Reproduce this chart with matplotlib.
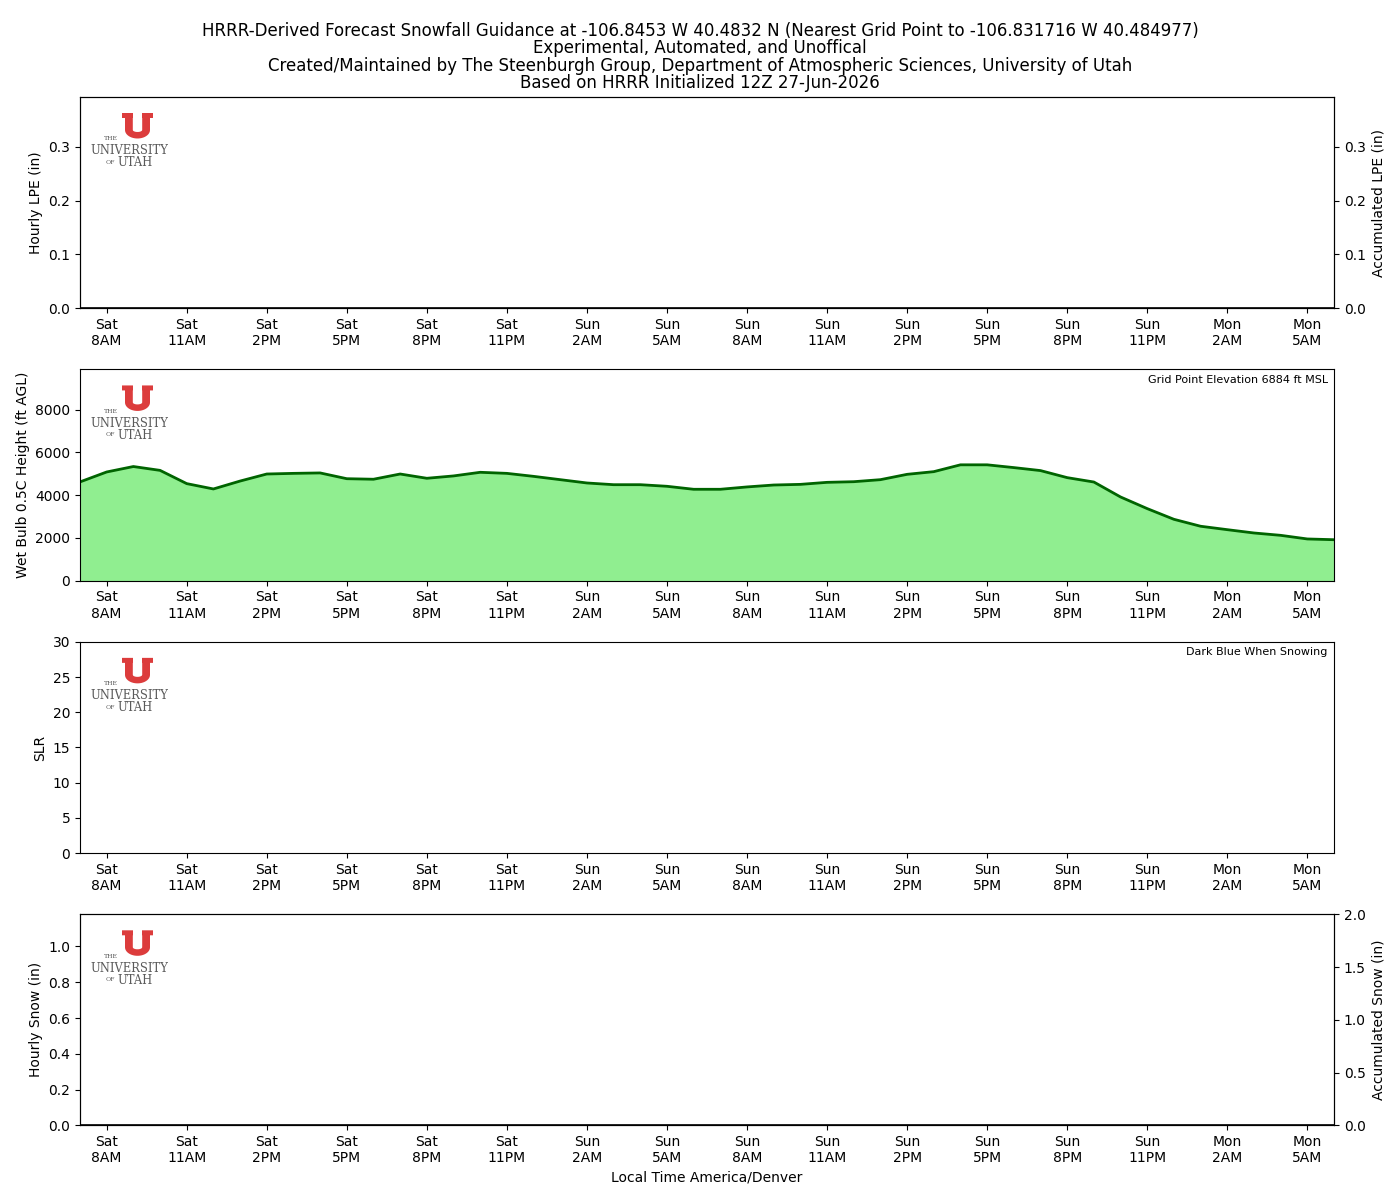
import matplotlib
matplotlib.use("Agg")
import matplotlib.pyplot as plt
import matplotlib.transforms as mtransforms
from matplotlib.patches import Polygon
import numpy as np

# ---- data ----
hours = list(range(48))  # hourly from Sat 7AM to Mon 6AM local
tick_hours = list(range(1, 48, 3))
tick_labels = ["Sat\n8AM", "Sat\n11AM", "Sat\n2PM", "Sat\n5PM", "Sat\n8PM", "Sat\n11PM",
               "Sun\n2AM", "Sun\n5AM", "Sun\n8AM", "Sun\n11AM", "Sun\n2PM", "Sun\n5PM",
               "Sun\n8PM", "Sun\n11PM", "Mon\n2AM", "Mon\n5AM"]
wetbulb_height = [4620, 5085, 5340, 5160, 4540, 4290, 4660, 4990, 5020, 5040,
                  4770, 4745, 4990, 4790, 4900, 5070, 5020, 4880, 4725, 4570,
                  4490, 4490, 4415, 4275, 4275, 4385, 4475, 4505, 4600, 4630,
                  4725, 4975, 5100, 5420, 5420, 5290, 5150, 4820, 4615, 3915,
                  3370, 2870, 2545, 2385, 2230, 2120, 1950, 1915]
hourly_lpe = [0.0] * 48
accum_lpe = [0.0] * 48
hourly_snow = [0.0] * 48
accum_snow = [0.0] * 48
elevation_ft = 6884

title = ("HRRR-Derived Forecast Snowfall Guidance at -106.8453 W 40.4832 N (Nearest Grid Point to -106.831716 W 40.484977)\n"
         "Experimental, Automated, and Unoffical\n"
         "Created/Maintained by The Steenburgh Group, Department of Atmospheric Sciences, University of Utah\n"
         "Based on HRRR Initialized 12Z 27-Jun-2026")

fig, axes = plt.subplots(4, 1, figsize=(14, 12), dpi=100)
fig.subplots_adjust(left=80/1400, right=1334/1400, bottom=1-1125.5/1200, top=1-97/1200, hspace=0.29)
fig.suptitle(title, fontsize=12, y=1-22/1200, va="top", linespacing=0.96)

pix = mtransforms.Affine2D().scale(1, -1).translate(0, 1200).scale(1/1400, 1/1200) + fig.transFigure


def draw_logo(ax):
    x0 = 80
    y0 = 1200 - fig.transFigure.transform((0, ax.get_position().y1))[1]

    def P(pts):
        return [(x0 + x, y0 + y) for x, y in pts]
    red = "#dc3c3c"
    shape = ([(42, 16), (53, 16), (53, 21), (52.8, 21), (52.8, 33)]
             + [(57.5 + 4.7*np.cos(a), 33 + 2*np.sin(a)) for a in np.linspace(np.pi, 0, 10)]
             + [(62.2, 21), (62, 21), (62, 16), (73, 16), (73, 21), (70, 21), (70, 33)]
             + [(57.5 + 12.5*np.cos(a), 33 + 8.5*np.sin(a)) for a in np.linspace(0, np.pi, 24)]
             + [(45, 21), (42, 21)])
    fig.add_artist(Polygon(P(shape), closed=True, facecolor=red, edgecolor="none", transform=pix))
    gray = "#5a5a5a"
    fig.text(*P([(31, 42)])[0], "THE", transform=pix, fontsize=4.5, family="DejaVu Serif",
             color=gray, ha="center", va="center")
    fig.text(*P([(49.5, 54)])[0], "UNIVERSITY", transform=pix, fontsize=8.3, family="DejaVu Serif",
             color=gray, ha="center", va="center")
    fig.text(*P([(30, 65.5)])[0], "OF", transform=pix, fontsize=4.5, family="DejaVu Serif",
             color=gray, ha="center", va="center")
    fig.text(*P([(55, 66)])[0], "UTAH", transform=pix, fontsize=8.3, family="DejaVu Serif",
             color=gray, ha="center", va="center")


for ax in axes:
    ax.set_xlim(0, 47)
    ax.set_xticks(tick_hours)
    ax.set_xticklabels(tick_labels)

# Panel 1: LPE
ax1 = axes[0]
ax1.bar(hours, hourly_lpe, width=0.8, color="tab:green")
ax1.set_ylim(0, 0.3926)
ax1.set_yticks([0, 0.1, 0.2, 0.3])
ax1.set_ylabel("Hourly LPE (in)")
ax1r = ax1.twinx()
ax1r.plot(hours, accum_lpe, color="black", lw=1.2)
ax1r.set_ylim(0, 0.3926)
ax1r.set_yticks([0, 0.1, 0.2, 0.3])
ax1r.set_ylabel("Accumulated LPE (in)")
ax1r.set_xlim(0, 47)

# Panel 2: wet bulb height
ax2 = axes[1]
ax2.fill_between(hours, wetbulb_height, 0, color="#90ee90")
ax2.plot(hours, wetbulb_height, color="#006400", lw=2)
ax2.set_ylim(0, elevation_ft + 3000)
ax2.set_yticks([0, 2000, 4000, 6000, 8000])
ax2.set_ylabel("Wet Bulb 0.5C Height (ft AGL)")
ax2.text(0.995, 0.975, f"Grid Point Elevation {elevation_ft} ft MSL", transform=ax2.transAxes,
         ha="right", va="top", fontsize=8)

# Panel 3: SLR
ax3 = axes[2]
ax3.set_ylim(0, 30)
ax3.set_yticks(range(0, 31, 5))
ax3.set_ylabel("SLR")
ax3.text(0.995, 0.975, "Dark Blue When Snowing", transform=ax3.transAxes,
         ha="right", va="top", fontsize=8)

# Panel 4: snow
ax4 = axes[3]
ax4.bar(hours, hourly_snow, width=0.8, color="tab:blue")
ax4.set_ylim(0, 1.179)
ax4.set_yticks([0, 0.2, 0.4, 0.6, 0.8, 1.0])
ax4.set_ylabel("Hourly Snow (in)")
ax4.set_xlabel("Local Time America/Denver")
ax4r = ax4.twinx()
ax4r.plot(hours, accum_snow, color="black", lw=1.2)
ax4r.set_ylim(0, 2.0)
ax4r.set_yticks([0, 0.5, 1.0, 1.5, 2.0])
ax4r.set_ylabel("Accumulated Snow (in)")
ax4r.set_xlim(0, 47)

for ax in axes:
    draw_logo(ax)

fig.savefig("out.png", dpi=100)
